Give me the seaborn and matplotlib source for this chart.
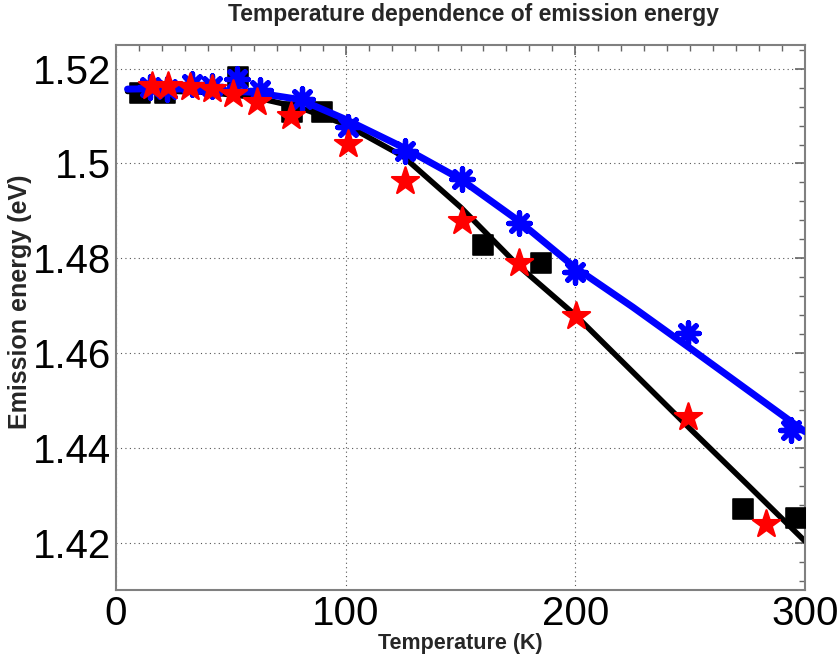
import numpy as np
import pandas as pd
import matplotlib
matplotlib.use("Agg")
import matplotlib.pyplot as plt
import seaborn as sns
from matplotlib.ticker import MultipleLocator

# =============================
# DATA
# =============================
sq_T = [10.4, 21.3, 53.2, 76.5, 89.5, 159.6, 184.9, 273.0, 296.0]
sq_E = [1.5149, 1.5149, 1.5182, 1.5108, 1.5108, 1.4827, 1.4789, 1.4271, 1.4251]

star_T = [15.5, 22.8, 32.2, 41.7, 51.1, 61.3, 76.0, 101.1, 125.8, 150.8, 175.6, 200.1, 248.9, 283.0]
star_E = [1.5164, 1.5164, 1.5162, 1.5157, 1.5147, 1.5129, 1.5101, 1.5041, 1.4963, 1.4878, 1.4789, 1.4679, 1.4466, 1.4240]

ast_T = [15.0, 22.0, 33.0, 41.7, 52.5, 62.7, 80.8, 101.1, 125.8, 150.8, 175.6, 200.0, 249.2, 293.9]
ast_E = [1.5162, 1.5158, 1.5168, 1.5164, 1.5178, 1.5155, 1.5136, 1.5076, 1.5027, 1.4968, 1.4875, 1.4771, 1.4643, 1.4437]

fit_T = [5, 20, 40, 60, 80, 100, 125, 150, 175, 200, 225, 250, 275, 300]
fit_black = [1.5152, 1.5153, 1.5150, 1.5140, 1.5118, 1.5082, 1.5015, 1.4908, 1.4785, 1.4680, 1.4560, 1.4440, 1.4322, 1.4203]
fit_blue = [1.5157, 1.5158, 1.5156, 1.5150, 1.5135, 1.5093, 1.5034, 1.4967, 1.4880, 1.4780, 1.4697, 1.4610, 1.4522, 1.4434]

y_ticks = [1.42, 1.44, 1.46, 1.48, 1.50, 1.52]
y_ticklabels = ["1.42", "1.44", "1.46", "1.48", "1.5", "1.52"]

# =============================
# PLOT
# =============================
sns.set_style("white")
plt.rcParams["font.family"] = ["Liberation Sans", "DejaVu Sans"]

fig, ax = plt.subplots(figsize=(8.39, 6.61), dpi=100)
fig.subplots_adjust(left=0.1383, right=0.9595, bottom=0.1074, top=0.9319)

sns.lineplot(x=fit_T, y=fit_black, color="black", linewidth=4, sort=False,
             estimator=None, ax=ax, zorder=2)
sns.scatterplot(x=sq_T, y=sq_E, marker="s", s=210, color="black",
                edgecolor="black", ax=ax, zorder=3)
sns.lineplot(x=fit_T, y=fit_blue, color="blue", linewidth=5, sort=False,
             estimator=None, ax=ax, zorder=4)
ax.scatter(ast_T, ast_E, marker=(8, 2, 0), s=240, color="blue",
           linewidths=3.8, zorder=5)
sns.scatterplot(x=star_T, y=star_E, marker="*", s=420, color="red",
                edgecolor="red", ax=ax, zorder=6)

ax.set_xlim(0, 300)
ax.set_ylim(1.41, 1.525)
ax.xaxis.set_major_locator(MultipleLocator(100))
ax.xaxis.set_minor_locator(MultipleLocator(10))
ax.yaxis.set_minor_locator(MultipleLocator(0.004))
ax.set_yticks(y_ticks)
ax.set_yticklabels(y_ticklabels)

ax.grid(True, which="major", linestyle=(0, (1, 3)), color="#555555", linewidth=0.8)
ax.tick_params(which="both", direction="in", top=True, right=True, colors="#666666",
               labelcolor="black", labelsize=29)
ax.tick_params(which="major", length=7, width=1.2)
ax.tick_params(which="minor", length=4, width=1.0)
for sp in ax.spines.values():
    sp.set_color("#808080")
    sp.set_linewidth(1.5)

ax.set_xlabel("Temperature (K)", fontsize=15.5, fontweight="bold", labelpad=0)
ax.set_ylabel("")
fig.text(20 / 839, 1 - 302 / 661, "Emission energy (eV)", rotation=90,
         ha="center", va="center", fontsize=18, fontweight="bold")
fig.text(474 / 839, 1 - 15 / 661, "Temperature dependence of emission energy",
         ha="center", va="center", fontsize=16.5, fontweight="bold")

fig.savefig("out.png", dpi=100)
